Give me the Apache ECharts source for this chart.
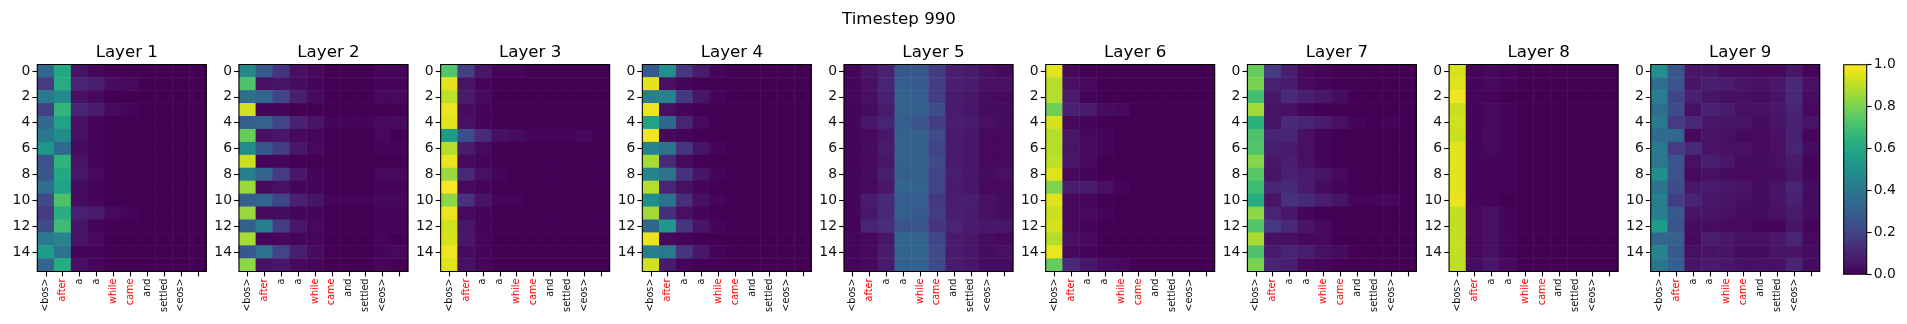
<!DOCTYPE html>
<html><head><meta charset="utf-8">
<style>html,body{margin:0;padding:0;background:#fff}#c{width:1907px;height:324px}</style>
<script src="https://cdn.jsdelivr.net/npm/echarts@6/dist/echarts.min.js"></script>
</head><body><div id="c"></div>
<script>
const tokens = ['<bos>','after','a','a','while','came','and','settled','<eos>',''];
const redTokens = ['after','while','came'];
const rowLabels = ['0','1','2','3','4','5','6','7','8','9','10','11','12','13','14','15'];
const colorbarTicks = [0,0.2,0.4,0.6,0.8,1];
const viridis = ['#440154','#481567','#482677','#453781','#404788','#39568C','#33638D','#2D708E','#287D8E','#238A8D','#1F968B','#20A387','#29AF7F','#3CBB75','#55C667','#73D055','#95D840','#B8DE29','#DCE319','#FDE725'];

const layer1 = [
[.33,.60,.05,.01,0,0,0,0,0,0],[.17,.62,.10,.08,.03,.02,0,0,0,0],[.40,.47,.04,.02,0,0,0,0,0,0],[.19,.66,.10,.07,.02,.01,0,0,0,0],
[.34,.57,.04,.01,0,0,0,0,0,0],[.40,.49,.04,.01,0,0,0,0,0,0],[.52,.35,.03,.01,0,0,0,0,0,0],[.25,.65,.05,.01,0,0,0,0,0,0],
[.27,.60,.06,.02,0,0,0,0,0,0],[.36,.57,.03,.01,0,0,0,0,0,0],[.22,.72,.03,.01,0,0,0,0,0,0],[.17,.63,.09,.07,.02,.01,0,0,0,0],
[.23,.69,.05,.01,0,0,0,0,0,0],[.41,.45,.05,.02,0,0,0,0,0,0],[.55,.38,.01,.01,0,0,0,0,0,0],[.32,.62,.04,.01,0,0,0,0,0,0]];
const layer2 = [
[.47,.28,.15,.04,.02,0,0,0,.01,.01],[.72,.04,.05,.03,.01,0,0,0,.01,.01],[.36,.33,.20,.08,.03,0,0,0,.02,.02],[.93,.01,.01,0,0,0,0,0,0,0],
[.30,.31,.20,.09,.05,.01,.01,.01,.02,.03],[.77,.04,.06,.02,.01,0,0,0,.02,0],[.48,.27,.18,.06,.02,0,0,0,.01,.01],[.92,.01,.01,0,0,0,0,0,0,0],
[.43,.32,.17,.06,.01,0,0,0,.02,.02],[.85,.02,.04,.01,.01,0,0,0,.01,.01],[.30,.32,.21,.09,.05,.01,.01,.01,.02,.02],[.85,.02,.03,.01,.01,0,0,0,.01,.01],
[.30,.43,.18,.06,.02,0,0,0,.01,.01],[.87,.01,.02,.01,.01,0,0,0,.01,0],[.27,.38,.20,.08,.03,0,0,0,.01,.02],[.83,.04,.06,.02,.01,0,0,0,.01,0]];
const layer3 = [
[.73,.19,.06,.01,.01,0,0,0,0,0],[.96,.05,.01,0,0,0,0,0,0,0],[.90,.07,.02,0,0,0,0,0,0,0],[.97,.03,.01,0,0,0,0,0,0,0],
[.96,.04,.01,0,0,0,0,0,0,0],[.55,.24,.12,.04,.03,.01,.01,.01,.02,0],[.89,.07,.02,0,0,0,0,0,0,0],[.97,.02,.01,0,0,0,0,0,0,0],
[.85,.11,.04,.01,0,0,0,0,0,0],[.99,.02,.01,0,0,0,0,0,0,0],[.83,.14,.05,.01,.01,0,0,0,0,0],[.97,.02,.01,0,0,0,0,0,0,0],
[.93,.06,.01,0,0,0,0,0,0,0],[.94,.06,.01,0,0,0,0,0,0,0],[.98,.03,.01,0,0,0,0,0,0,0],[.95,.04,.01,0,0,0,0,0,0,0]];
const layer4 = [
[.28,.50,.16,.07,.01,0,0,0,0,0],[.96,.04,.01,0,0,0,0,0,0,0],[.42,.44,.16,.05,.01,0,0,0,0,0],[.97,.04,.01,0,0,0,0,0,0,0],
[.58,.33,.10,.02,0,0,0,0,0,0],[.98,.02,.01,0,0,0,0,0,0,0],[.45,.38,.15,.05,.01,0,0,0,0,0],[.87,.12,.02,0,0,0,0,0,0,0],
[.45,.38,.14,.05,.01,0,0,0,0,0],[.89,.10,.04,.01,0,0,0,0,0,0],[.50,.38,.13,.04,.01,0,0,0,0,0],[.86,.13,.04,.01,0,0,0,0,0,0],
[.33,.53,.15,.05,.01,0,0,0,0,0],[.97,.02,.01,0,0,0,0,0,0,0],[.43,.40,.15,.06,.01,0,0,0,0,0],[.93,.07,.01,0,0,0,0,0,0,0]];
const layer5 = [
[.01,.05,.09,.27,.27,.17,.08,.07,.04,.02],[.01,.04,.10,.29,.28,.18,.08,.07,.04,.04],[.01,.04,.09,.31,.29,.18,.07,.06,.03,.02],[.01,.03,.07,.31,.30,.23,.07,.06,.03,.03],
[.01,.06,.10,.29,.25,.18,.08,.07,.04,.03],[.01,.02,.06,.31,.31,.22,.07,.06,.02,.02],[.01,.03,.07,.31,.30,.20,.07,.06,.02,.02],[.01,.02,.06,.31,.30,.22,.07,.06,.02,.02],
[.01,.03,.08,.30,.30,.20,.08,.06,.03,.04],[.01,.02,.06,.33,.32,.20,.07,.06,.02,.02],[.01,.07,.12,.29,.29,.16,.08,.08,.04,.03],[.01,.06,.11,.30,.28,.18,.08,.07,.04,.03],
[.01,.10,.13,.25,.26,.15,.10,.07,.06,.06],[.01,.02,.06,.33,.32,.21,.07,.06,.03,.02],[.01,.02,.07,.32,.32,.22,.07,.06,.03,.04],[.01,.02,.07,.31,.31,.22,.07,.06,.03,.03]];
const layer6 = [
[.96,.02,0,0,0,0,0,0,0,0],[.89,.04,.02,0,0,0,0,0,0,0],[.89,.07,.01,0,0,0,0,0,0,0],[.78,.09,.07,.03,.02,0,0,0,0,0],
[.94,.02,.01,0,0,0,0,0,0,0],[.89,.06,.02,.01,0,0,0,0,0,0],[.89,.05,.02,.01,0,0,0,0,0,0],[.90,.06,.02,0,0,0,0,0,0,0],
[.95,.02,.01,0,0,0,0,0,0,0],[.81,.08,.07,.04,.01,0,0,0,0,0],[.95,.02,.01,0,0,0,0,0,0,0],[.92,.02,.02,.01,0,0,0,0,0,0],
[.94,.02,.01,0,0,0,0,0,0,0],[.89,.04,.02,0,0,0,0,0,0,0],[.97,.02,.01,0,0,0,0,0,0,0],[.77,.11,.06,.03,.02,0,0,0,0,0]];
const layer7 = [
[.77,.17,.08,.02,.01,0,0,0,0,0],[.80,.09,.07,.02,.01,0,0,0,0,0],[.70,.06,.12,.08,.06,.03,0,0,0,0],[.86,.05,.04,.01,0,0,0,0,0,0],
[.64,.05,.12,.10,.07,.04,.01,0,.01,0],[.72,.10,.10,.04,.01,0,0,0,0,0],[.73,.08,.07,.04,.01,0,0,0,0,0],[.82,.06,.08,.04,.01,0,0,0,0,0],
[.74,.05,.09,.07,.05,.02,0,0,0,0],[.69,.10,.12,.07,.03,.01,0,0,0,0],[.62,.05,.14,.12,.08,.05,.01,.01,.02,0],[.83,.10,.06,.01,0,0,0,0,0,0],
[.73,.16,.11,.05,.02,0,0,0,0,0],[.87,.04,.04,.02,.02,0,0,0,0,0],[.72,.07,.10,.08,.04,.03,0,0,0,0],[.80,.10,.08,.02,.01,0,0,0,0,0]];
const layer8 = [
[.94,.01,.02,.01,0,0,0,0,0,0],[.95,.01,.02,.01,0,0,0,0,0,0],[.98,.01,.01,0,0,0,0,0,0,0],[.92,.01,.02,.01,0,0,0,0,0,0],
[.93,.01,.02,.01,0,0,0,0,0,0],[.92,.01,.03,.01,0,0,0,0,0,0],[.96,.01,.02,.01,0,0,0,0,0,0],[.96,.01,.01,.01,0,0,0,0,0,0],
[.96,.01,.01,.01,0,0,0,0,0,0],[.96,.01,.01,.01,0,0,0,0,0,0],[.97,.01,.01,0,0,0,0,0,0,0],[.91,.02,.04,.01,0,0,0,0,0,0],
[.91,.02,.04,.01,0,0,0,0,0,0],[.91,.02,.04,.01,0,0,0,0,0,0],[.91,.02,.04,.01,0,0,0,0,0,0],[.90,.03,.06,.02,0,0,0,0,0,0]];
const layer9 = [
[.50,.26,.06,.06,.03,.03,.02,.02,.06,.01],[.36,.26,.05,.08,.07,.05,.04,.06,.11,.04],[.42,.21,.09,.05,.04,.04,.03,.05,.11,.03],[.36,.23,.04,.09,.07,.04,.04,.06,.10,.02],
[.41,.17,.11,.06,.05,.05,.03,.05,.09,.05],[.35,.34,.02,.05,.04,.02,.02,.04,.09,.01],[.41,.17,.12,.05,.04,.04,.02,.04,.10,.03],[.39,.26,.04,.08,.06,.03,.03,.04,.07,.01],
[.50,.25,.02,.04,.03,.02,.02,.03,.06,.01],[.38,.23,.06,.07,.06,.05,.03,.05,.10,.03],[.43,.18,.10,.06,.05,.04,.03,.05,.09,.03],[.42,.28,.05,.05,.04,.03,.03,.04,.07,.03],
[.55,.26,.03,.03,.02,.02,.01,.01,.05,.01],[.33,.31,.02,.08,.06,.04,.04,.06,.10,.02],[.45,.28,.04,.05,.05,.03,.03,.05,.05,.03],[.39,.30,.05,.07,.06,.04,.04,.04,.10,.03]];
const layers = [layer1,layer2,layer3,layer4,layer5,layer6,layer7,layer8,layer9];

const FONT = '"DejaVu Sans"';
const INK = '#111';
const left0 = 37.3, step = 201.68, top0 = 64.5, gw = 169, gh = 207;
const cbLeft = 1843.7, cbTop = 64.7, cbW = 23, cbH = 209.6;
const frame = {show:true, z:5, backgroundColor:'transparent', borderColor:'#000', borderWidth:1.1};
const tick = {show:true, length:4.9, lineStyle:{color:'#000', width:1.1}};

const grid = [], xAxis = [], yAxis = [], series = [];
const title = [{text:'Timestep 990', left:894, top:6, textAlign:'center',
  textStyle:{fontFamily:FONT, fontSize:16.67, fontWeight:'normal', color:'#000'}}];

layers.forEach((m,i)=>{
  const l = left0 + i*step;
  grid.push({left:l, top:top0, width:gw, height:gh, ...frame});
  title.push({text:'Layer '+(i+1), left:l+gw/2, top:39, textAlign:'center',
    textStyle:{fontFamily:FONT, fontSize:16.67, fontWeight:'normal', color:'#000'}});
  xAxis.push({type:'category', gridIndex:i, data:tokens, position:'bottom',
    axisLine:{show:false}, splitLine:{show:false}, splitArea:{show:false},
    axisTick:{...tick, alignWithLabel:true, interval:0},
    axisLabel:{interval:0, rotate:90, margin:7, fontFamily:FONT, fontSize:9.7, hideOverlap:false,
      color:(v)=>redTokens.includes(v)?'#f00':INK}});
  yAxis.push({type:'category', gridIndex:i, data:rowLabels, inverse:true,
    axisLine:{show:false}, splitLine:{show:false}, splitArea:{show:false},
    axisTick:{...tick, alignWithLabel:true, interval:1},
    axisLabel:{interval:1, margin:7, fontFamily:FONT, fontSize:13.9, color:INK}});
  const data = [];
  m.forEach((row,r)=>row.forEach((v,c)=>data.push([c,r,v])));
  series.push({type:'heatmap', xAxisIndex:i, yAxisIndex:i, data, animation:false, progressive:0,
    emphasis:{disabled:true}, itemStyle:{borderWidth:0}});
});

// colorbar
const n = layers.length;
grid.push({left:cbLeft, top:cbTop, width:cbW, height:cbH, ...frame});
xAxis.push({type:'category', gridIndex:n, data:['cb'], show:false});
yAxis.push({type:'value', gridIndex:n, min:colorbarTicks[0], max:colorbarTicks[colorbarTicks.length-1], interval:0.2, position:'right',
  axisLine:{show:false}, splitLine:{show:false}, axisTick:tick,
  axisLabel:{margin:7, fontFamily:FONT, fontSize:13.9, color:INK, formatter:v=>v.toFixed(1)}});
series.push({type:'bar', xAxisIndex:n, yAxisIndex:n, data:[1], barWidth:'100%', animation:false, silent:true,
  itemStyle:{color:{type:'linear', x:0,y:1,x2:0,y2:0,
    colorStops:viridis.map((c,k)=>({offset:k/(viridis.length-1), color:c}))}}});

const chart = echarts.init(document.getElementById('c'), null, {renderer:'canvas'});
chart.setOption({
  animation:false, backgroundColor:'#fff', title, grid, xAxis, yAxis, series,
  visualMap:{show:false, type:'continuous', min:0, max:1, seriesIndex:layers.map((_,i)=>i), inRange:{color:viridis}}
});
</script></body></html>
